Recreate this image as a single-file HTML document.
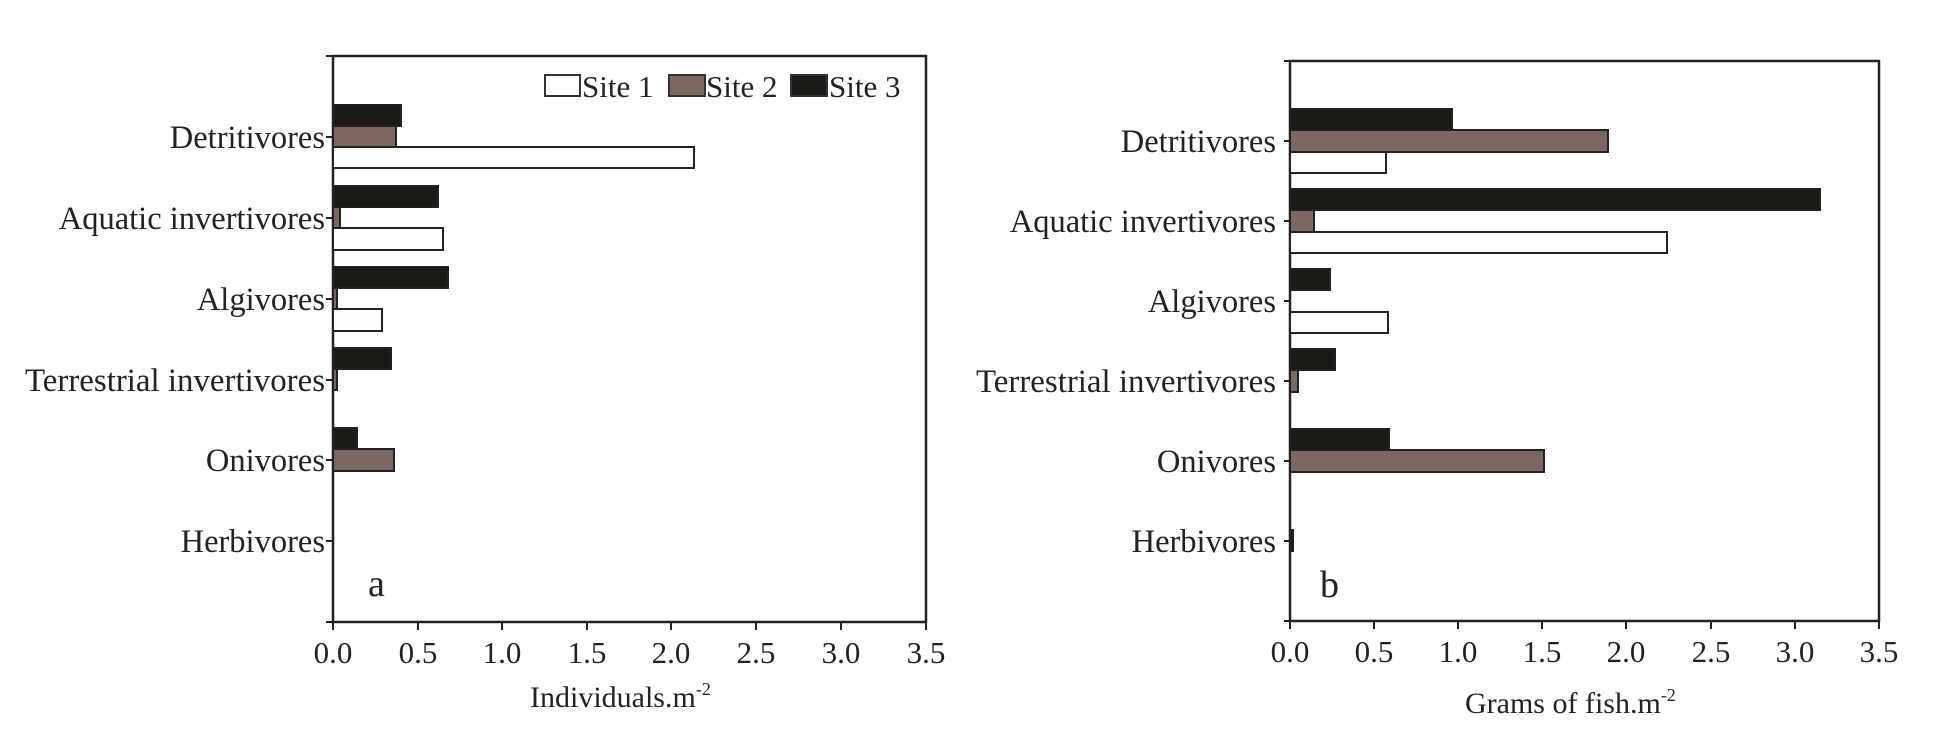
<!DOCTYPE html>
<html><head><meta charset="utf-8"><style>
html,body{margin:0;padding:0;background:#fff}
svg{display:block}
text{font-family:"Liberation Serif",serif;fill:#222}
</style></head><body>
<svg width="1944" height="738" viewBox="0 0 1944 738" xmlns="http://www.w3.org/2000/svg">
<g stroke="#222" stroke-width="2.5" fill="none">
<path d="M333 56 H926 V622 H333 Z"/>
<path d="M1290 61 H1879 V621 H1290 Z"/>
</g>
<g stroke="#222" stroke-width="2">
<path d="M326 56H333M326 137H333M326 218H333M326 299H333M326 380H333M326 460H333M326 541H333M326 622H333"/>
<path d="M333 622V630M418 622V630M502 622V630M587 622V630M671 622V630M756 622V630M841 622V630M926 622V630"/>
<path d="M1284 61H1290M1284 141H1290M1284 221H1290M1284 301H1290M1284 381H1290M1284 461H1290M1284 541H1290M1284 621H1290"/>
<path d="M1290 621V629M1374 621V629M1458 621V629M1542 621V629M1626 621V629M1711 621V629M1795 621V629M1879 621V629"/>
</g>
<g stroke="#222" stroke-width="2">
<rect x="333" y="105" width="68" height="21" fill="#1c1a16"/>
<rect x="333" y="126" width="63" height="21" fill="#7b675f"/>
<rect x="333" y="147" width="361" height="21" fill="#fff"/>
<rect x="333" y="186" width="105" height="21" fill="#1c1a16"/>
<rect x="333" y="207" width="7" height="21" fill="#7b675f"/>
<rect x="333" y="228" width="110" height="22" fill="#fff"/>
<rect x="333" y="267" width="115" height="21" fill="#1c1a16"/>
<rect x="333" y="288" width="4" height="21" fill="#7b675f"/>
<rect x="333" y="309" width="49" height="22" fill="#fffdf8"/>
<rect x="333" y="348" width="58" height="21" fill="#1c1a16"/>
<rect x="333" y="369" width="4" height="21" fill="#7b675f"/>
<rect x="333" y="428" width="24" height="21" fill="#1c1a16"/>
<rect x="333" y="449" width="61" height="22" fill="#7b675f"/>
</g>
<g stroke="#222" stroke-width="2">
<rect x="1290" y="109" width="162" height="21" fill="#1c1a16"/>
<rect x="1290" y="130" width="318" height="22" fill="#7b675f"/>
<rect x="1290" y="152" width="96" height="21" fill="#fff"/>
<rect x="1290" y="189" width="530" height="21" fill="#1c1a16"/>
<rect x="1290" y="210" width="24" height="22" fill="#7b675f"/>
<rect x="1290" y="232" width="377" height="21" fill="#fff"/>
<rect x="1290" y="269" width="40" height="21" fill="#1c1a16"/>
<rect x="1290" y="312" width="98" height="21" fill="#fff"/>
<rect x="1290" y="349" width="45" height="21" fill="#1c1a16"/>
<rect x="1290" y="370" width="8" height="22" fill="#7b675f"/>
<rect x="1290" y="429" width="99" height="21" fill="#1c1a16"/>
<rect x="1290" y="450" width="254" height="22" fill="#7b675f"/>
<rect x="1290" y="530" width="3" height="21" fill="#1c1a16"/>
</g>
<g stroke="#333" stroke-width="2">
<rect x="545" y="75" width="35" height="21" fill="#fff"/>
<rect x="669" y="75" width="36" height="21" fill="#7b675f"/>
<rect x="791" y="75" width="36" height="21" fill="#1c1a16"/>
</g>
<g font-size="31">
<text x="582" y="97">Site 1</text>
<text x="706" y="97">Site 2</text>
<text x="829" y="97">Site 3</text>
</g>
<g font-size="32.5" text-anchor="end">
<text x="325" y="148">Detritivores</text>
<text x="325" y="229">Aquatic invertivores</text>
<text x="325" y="310">Algivores</text>
<text x="325" y="391" textLength="300" lengthAdjust="spacingAndGlyphs">Terrestrial invertivores</text>
<text x="325" y="471">Onivores</text>
<text x="325" y="552">Herbivores</text>
</g>
<g font-size="32.5" text-anchor="end">
<text x="1276" y="152">Detritivores</text>
<text x="1276" y="232">Aquatic invertivores</text>
<text x="1276" y="312">Algivores</text>
<text x="1276" y="392" textLength="300" lengthAdjust="spacingAndGlyphs">Terrestrial invertivores</text>
<text x="1276" y="472">Onivores</text>
<text x="1276" y="552">Herbivores</text>
</g>
<g font-size="31" text-anchor="middle">
<text x="333" y="663">0.0</text><text x="418" y="663">0.5</text><text x="502" y="663">1.0</text><text x="587" y="663">1.5</text><text x="671" y="663">2.0</text><text x="756" y="663">2.5</text><text x="841" y="663">3.0</text><text x="926" y="663">3.5</text>
<text x="1290" y="662">0.0</text><text x="1374" y="662">0.5</text><text x="1458" y="662">1.0</text><text x="1542" y="662">1.5</text><text x="1626" y="662">2.0</text><text x="1711" y="662">2.5</text><text x="1795" y="662">3.0</text><text x="1879" y="662">3.5</text>
</g>
<text x="530" y="707" font-size="30">Individuals.m<tspan font-size="18" dy="-12">-2</tspan></text>
<text x="1465" y="713" font-size="30">Grams of fish.m<tspan font-size="18" dy="-12">-2</tspan></text>
<text x="368" y="596" font-size="38">a</text>
<text x="1320" y="597" font-size="38">b</text>
</svg>
</body></html>
